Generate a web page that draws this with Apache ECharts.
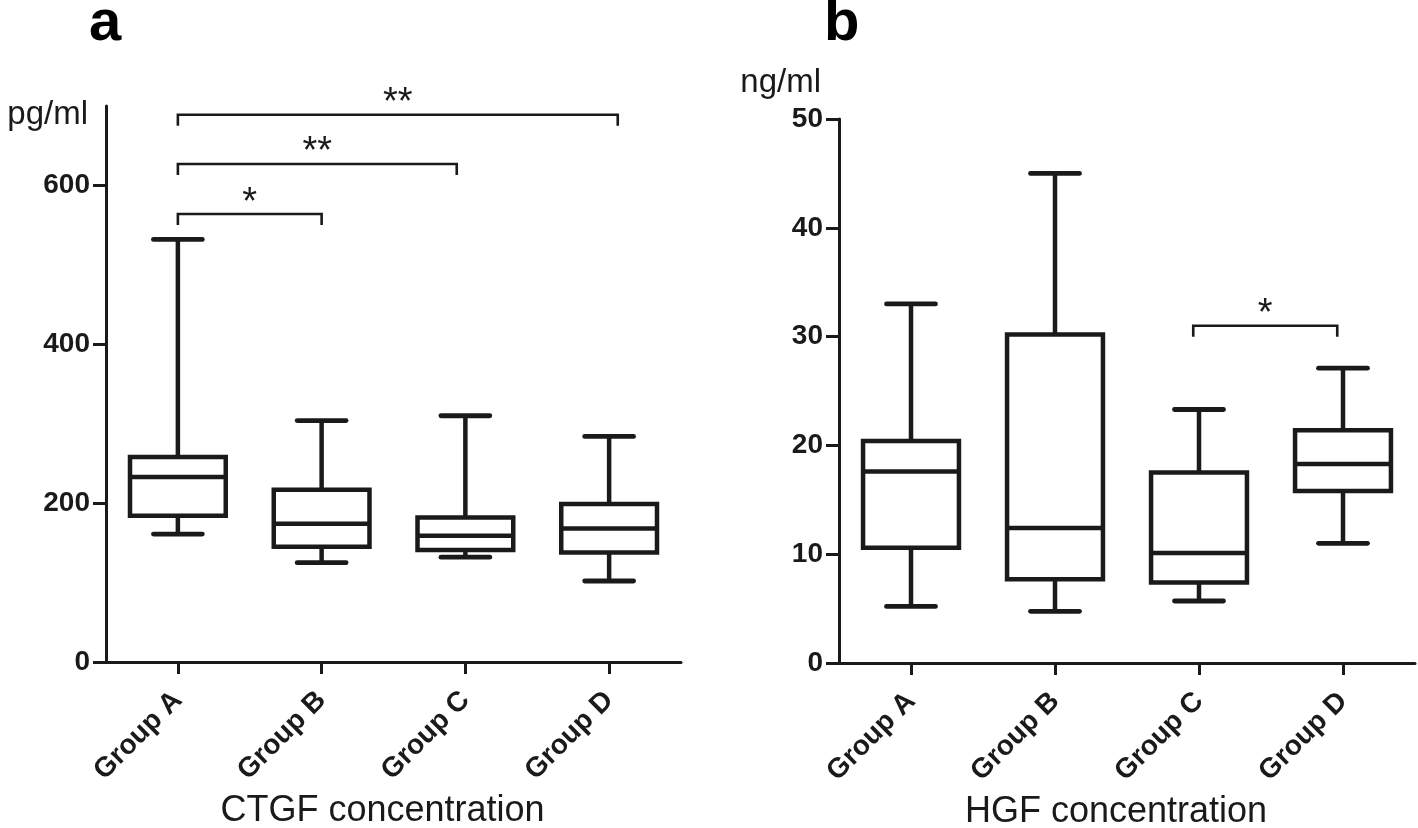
<!DOCTYPE html>
<html><head><meta charset="utf-8">
<script src="https://cdn.jsdelivr.net/npm/echarts@6/dist/echarts.min.js"></script>
<style>html,body{margin:0;padding:0;background:#fff}#chart{width:1418px;height:828px}</style>
</head><body><div id="chart"></div>
<script>
// ---------- data ----------
const categories = ['Group A', 'Group B', 'Group C', 'Group D'];

// Panel a: CTGF (pg/ml)
const ctgfMin    = [161, 125, 132, 102];
const ctgfQ1     = [184, 145, 141, 138];
const ctgfMedian = [233, 174, 159, 168];
const ctgfQ3     = [258, 217, 182, 199];
const ctgfMax    = [532, 304, 310, 284];
const ctgfTicks  = [0, 200, 400, 600];
// significance brackets (x in category units, y in data units)
const ctgfBracketStart = [0, 0, 0];
const ctgfBracketEnd   = [1, 1.94, 3.06];
const ctgfBracketLevel = [564, 627, 689];
const ctgfBracketLabel = ['*', '**', '**'];

// Panel b: HGF (ng/ml)
const hgfMin    = [5.2, 4.75, 5.7, 11.0];
const hgfQ1     = [10.6, 7.7, 7.4, 15.8];
const hgfMedian = [17.6, 12.4, 10.1, 18.3];
const hgfQ3     = [20.4, 30.2, 17.5, 21.4];
const hgfMax    = [33.0, 45.0, 23.3, 27.1];
const hgfTicks  = [0, 10, 20, 30, 40, 50];
const hgfBracketStart = [1.96];
const hgfBracketEnd   = [2.96];
const hgfBracketLevel = [31.0];
const hgfBracketLabel = ['*'];

// ---------- style ----------
const INK = '#1a1a1a';
const FONT = "'Liberation Sans', Arial, Helvetica, sans-serif";

function boxRows(mn, q1, md, q3, mx) {
  return categories.map((c, i) => [i, mn[i], q1[i], md[i], q3[i], mx[i]]);
}
function bracketRows(s, e, l) {
  return s.map((v, i) => [v, e[i], l[i]]);
}

function renderBox(params, api) {
  const i = api.value(0);
  const band = api.size([1, 0])[0];
  const half = band * 0.333;
  const capHalf = band * 0.17;
  const pMin = api.coord([i, api.value(1)]);
  const pQ1 = api.coord([i, api.value(2)]);
  const pMed = api.coord([i, api.value(3)]);
  const pQ3 = api.coord([i, api.value(4)]);
  const pMax = api.coord([i, api.value(5)]);
  const x = pMin[0];
  const ls = { stroke: INK, lineWidth: 4.8, fill: null, lineCap: 'round' };
  const lsb = { stroke: INK, lineWidth: 4.5, fill: null, lineCap: 'butt' };
  return {
    type: 'group',
    children: [
      { type: 'line', shape: { x1: x, y1: pMax[1], x2: x, y2: pQ3[1] }, style: lsb },
      { type: 'line', shape: { x1: x, y1: pQ1[1], x2: x, y2: pMin[1] }, style: lsb },
      { type: 'line', shape: { x1: x - capHalf, y1: pMax[1], x2: x + capHalf, y2: pMax[1] }, style: ls },
      { type: 'line', shape: { x1: x - capHalf, y1: pMin[1], x2: x + capHalf, y2: pMin[1] }, style: ls },
      { type: 'rect', shape: { x: x - half, y: pQ3[1], width: half * 2, height: pQ1[1] - pQ3[1] },
        style: { stroke: INK, lineWidth: 4.5, fill: '#fff', lineJoin: 'miter' } },
      { type: 'line', shape: { x1: x - half, y1: pMed[1], x2: x + half, y2: pMed[1] }, style: lsb }
    ]
  };
}

function makeBracketRenderer(labels) {
  return function (params, api) {
    const a = api.coord([api.value(0), api.value(2)]);
    const b = api.coord([api.value(1), api.value(2)]);
    const drop = 11;
    return {
      type: 'group',
      children: [
        { type: 'polyline',
          shape: { points: [[a[0], a[1] + drop], [a[0], a[1]], [b[0], b[1]], [b[0], b[1] + drop]] },
          style: { fill: null, stroke: INK, lineWidth: 2.6 } },
        { type: 'text', x: (a[0] + b[0]) / 2, y: a[1] - 11,
          style: { text: labels[params.dataIndex], fill: INK, font: '38px ' + FONT,
                   align: 'center', verticalAlign: 'middle' } }
      ]
    };
  };
}

function catAxis(gridIndex, name) {
  return {
    type: 'category', gridIndex, data: categories, boundaryGap: true,
    axisLine: { show: true, onZero: false, lineStyle: { color: INK, width: 3 } },
    axisTick: { show: true, alignWithLabel: true, length: 12, lineStyle: { color: INK, width: 3 } },
    axisLabel: { rotate: 45, margin: 34, fontSize: 28, fontWeight: 'bold', color: INK, fontFamily: FONT },
    splitLine: { show: false },
    name, nameLocation: 'middle', nameGap: 149,
    nameTextStyle: { fontSize: 36, color: INK, fontFamily: FONT, verticalAlign: 'middle', padding: [0, 22, 0, 0] }
  };
}
function hiddenX(gridIndex) {
  return { type: 'value', gridIndex, min: -0.5, max: 3.5, show: false,
           axisLine: { show: false, onZero: false } };
}
function valAxis(gridIndex, max, interval, ticks, name, nameGap) {
  return {
    type: 'value', gridIndex, min: 0, max, interval,
    axisLine: { show: true, onZero: false, lineStyle: { color: INK, width: 3 } },
    axisTick: { show: true, length: 13, lineStyle: { color: INK, width: 3 }, customValues: ticks },
    axisLabel: { margin: 16, fontSize: 28, fontWeight: 'bold', color: INK, fontFamily: FONT, customValues: ticks },
    splitLine: { show: false },
    name, nameLocation: 'end', nameGap,
    nameTextStyle: { fontSize: 33, color: INK, fontFamily: FONT, align: 'right', verticalAlign: 'middle', padding: [0, 18, 0, 0] }
  };
}

const chart = echarts.init(document.getElementById('chart'), null, { renderer: 'canvas' });
chart.setOption({
  backgroundColor: '#fff',
  animation: false,
  title: [
    { text: 'a', left: 89, top: -5, padding: 0, textStyle: { fontSize: 58, fontWeight: 'bold', color: '#000', fontFamily: FONT } },
    { text: 'b', left: 824, top: -5, padding: 0, textStyle: { fontSize: 58, fontWeight: 'bold', color: '#000', fontFamily: FONT } }
  ],
  grid: [
    { left: 106, top: 106, width: 575, height: 556, outerBoundsMode: 'none' },
    { left: 839, top: 119, width: 576, height: 544, outerBoundsMode: 'none' }
  ],
  xAxis: [catAxis(0, 'CTGF concentration'), hiddenX(0), catAxis(1, 'HGF concentration'), hiddenX(1)],
  yAxis: [
    valAxis(0, 700, 100, ctgfTicks, 'pg/ml', -9),
    valAxis(1, 50, 10, hgfTicks, 'ng/ml', 36)
  ],
  series: [
    { type: 'custom', name: 'CTGF', xAxisIndex: 0, yAxisIndex: 0, renderItem: renderBox,
      encode: { x: 0, y: [1, 2, 3, 4, 5] }, data: boxRows(ctgfMin, ctgfQ1, ctgfMedian, ctgfQ3, ctgfMax), z: 3 },
    { type: 'custom', name: 'CTGF brackets', xAxisIndex: 1, yAxisIndex: 0,
      renderItem: makeBracketRenderer(ctgfBracketLabel),
      encode: { x: [0, 1], y: 2 }, data: bracketRows(ctgfBracketStart, ctgfBracketEnd, ctgfBracketLevel), z: 3 },
    { type: 'custom', name: 'HGF', xAxisIndex: 2, yAxisIndex: 1, renderItem: renderBox,
      encode: { x: 0, y: [1, 2, 3, 4, 5] }, data: boxRows(hgfMin, hgfQ1, hgfMedian, hgfQ3, hgfMax), z: 3 },
    { type: 'custom', name: 'HGF brackets', xAxisIndex: 3, yAxisIndex: 1,
      renderItem: makeBracketRenderer(hgfBracketLabel),
      encode: { x: [0, 1], y: 2 }, data: bracketRows(hgfBracketStart, hgfBracketEnd, hgfBracketLevel), z: 3 }
  ]
});
</script></body></html>
